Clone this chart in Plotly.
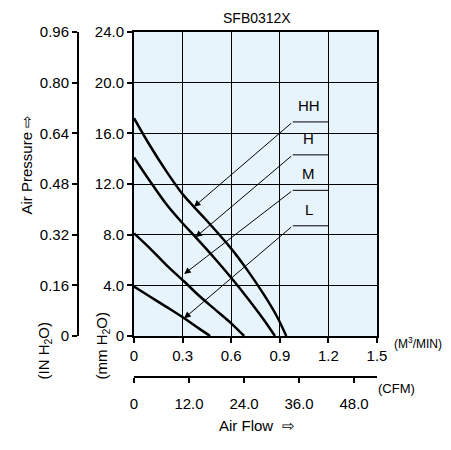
import plotly.graph_objects as go

# curve data: air flow (M3/MIN) vs static pressure (mmH2O)
hh_flow = [0, 0.1, 0.2, 0.3, 0.37, 0.45, 0.6, 0.7, 0.8, 0.88, 0.94]
hh_pres = [17.2, 15.0, 13.0, 11.2, 10.2, 9.1, 6.9, 5.2, 3.3, 1.6, 0]
h_flow = [0, 0.1, 0.2, 0.3, 0.38, 0.5, 0.6, 0.7, 0.8, 0.87]
h_pres = [14.1, 12.2, 10.4, 8.9, 7.8, 6.1, 4.6, 3.0, 1.3, 0]
m_flow = [0, 0.1, 0.2, 0.31, 0.4, 0.5, 0.6, 0.68]
m_pres = [8.1, 6.9, 5.6, 4.3, 3.2, 2.1, 1.0, 0]
l_flow = [0, 0.1, 0.2, 0.31, 0.4, 0.47]
l_pres = [3.9, 3.1, 2.3, 1.4, 0.6, 0]

labels = ["HH", "H", "M", "L"]
arrow_tips = [(0.37, 10.2), (0.38, 7.8), (0.31, 4.9), (0.31, 1.4)]
label_y = [16.9, 14.3, 11.5, 8.7]

mm_ticks = [0, 4, 8, 12, 16, 20, 24]
in_ticks = [0, 0.16, 0.32, 0.48, 0.64, 0.80, 0.96]
flow_ticks = [0, 0.3, 0.6, 0.9, 1.2, 1.5]
cfm_ticks = [0, 12, 24, 36, 48]

W, H = 451, 450
DX, DY = -6, -8  # page offset of the rendered figure


def px(x):
    return (x + DX) / W


def py(y):
    return 1 - (y + DY) / H


x0, x1 = px(132), px(375)
y0, y1 = py(336), py(32)
font = dict(family="Liberation Sans, Arial", size=15, color="black")

fig = go.Figure()
for fx, fy in [(hh_flow, hh_pres), (h_flow, h_pres), (m_flow, m_pres), (l_flow, l_pres)]:
    fig.add_trace(go.Scatter(x=fx, y=fy, mode="lines", line=dict(color="black", width=2.5, shape="spline"),
                             showlegend=False, hoverinfo="skip"))

# dummy traces for the secondary axes
fig.add_trace(go.Scatter(x=[0], y=[0], yaxis="y2", mode="markers", marker=dict(opacity=0), showlegend=False))
fig.add_trace(go.Scatter(x=[0], y=[0], xaxis="x2", mode="markers", marker=dict(opacity=0), showlegend=False))

for lab, tip, ly in zip(labels, arrow_tips, label_y):
    fig.add_annotation(x=1.08, y=ly + 1.3, text=lab, showarrow=False, font=font)
    fig.add_shape(type="line", x0=0.98, x1=1.2, y0=ly, y1=ly, line=dict(color="black", width=1))
    fig.add_annotation(x=tip[0], y=tip[1], ax=0.98, ay=ly, axref="x", ayref="y", text="",
                       showarrow=True, arrowhead=2, arrowsize=1.3, arrowwidth=1, arrowcolor="black")

ax_common = dict(showline=True, linecolor="black", linewidth=2, ticks="outside", tickcolor="black",
                 ticklen=5, tickwidth=2, tickfont=font, zeroline=False)
fig.update_layout(
    width=W, height=H, margin=dict(l=0, r=0, t=0, b=0, autoexpand=False),
    font=font, paper_bgcolor="white", plot_bgcolor="#e8f4fc",
    xaxis=dict(domain=[x0, x1], range=[0, 1.5], tickvals=flow_ticks,
               ticktext=["0", "0.3", "0.6", "0.9", "1.2", "1.5"], showgrid=True,
               gridcolor="black", gridwidth=1, mirror=True, **ax_common),
    yaxis=dict(domain=[y0, y1], range=[0, 24], tickvals=mm_ticks,
               ticktext=["0", "4.0", "8.0", "12.0", "16.0", "20.0", "24.0"], showgrid=True,
               gridcolor="black", gridwidth=1, mirror=True, **ax_common),
    yaxis2=dict(range=[0, 0.96], tickvals=in_ticks,
                ticktext=["0", "0.16", "0.32", "0.48", "0.64", "0.80", "0.96"],
                anchor="free", overlaying="y", position=px(76), showgrid=False, side="left", **ax_common),
    xaxis2=dict(range=[0, 53], tickvals=cfm_ticks, ticktext=["0", "12.0", "24.0", "36.0", "48.0"],
                anchor="free", overlaying="x", position=py(377), showgrid=False, side="bottom",
                ticklabelstandoff=8, **ax_common),
)

fig.add_annotation(x=px(255), y=1, xref="paper", yref="paper", yanchor="top", text="SFB0312X",
                   showarrow=False, font=dict(family=font["family"], size=14, color="black"))
fig.add_annotation(x=px(390), y=py(353), xref="paper", yref="paper", xanchor="left",
                   text="(M<sup>3</sup>/MIN)",
                   showarrow=False, font=dict(family=font["family"], size=12, color="black"))
fig.add_annotation(x=px(415), y=py(398), xref="paper", yref="paper", text="(CFM)",
                   showarrow=False, font=dict(family=font["family"], size=13, color="black"))
fig.add_annotation(x=px(255), y=py(436), xref="paper", yref="paper", text="Air Flow  ⇨",
                   showarrow=False, font=font)
fig.add_annotation(x=px(13), y=py(165), xref="paper", yref="paper", text="Air Pressure ⇨",
                   showarrow=False, textangle=-90, font=font)
fig.add_annotation(x=px(30), y=py(382), xref="paper", yref="paper", text="(IN H<sub>2</sub>O)",
                   showarrow=False, textangle=-90, font=font)
fig.add_annotation(x=px(88), y=py(382), xref="paper", yref="paper", text="(mm H<sub>2</sub>O)",
                   showarrow=False, textangle=-90, font=font)

fig.write_html("out.html")
